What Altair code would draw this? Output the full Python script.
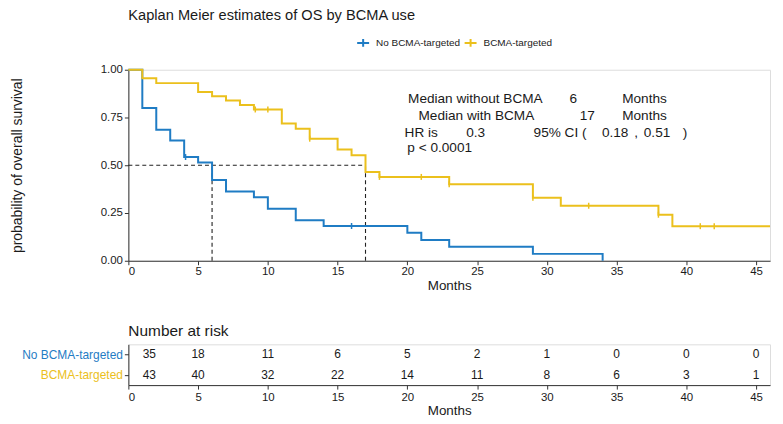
import altair as alt
import pandas as pd

# ---- data ----
groups = ["No BCMA-targeted", "BCMA-targeted"]
colors = ["#1F7CC4", "#EBC01C"]

times_no = [0, 1, 2, 3, 4, 5, 6, 7, 9, 10, 12, 14, 20, 21, 23, 29, 34]
surv_no = [1.0, 0.80, 0.686, 0.629, 0.543, 0.514, 0.423, 0.363, 0.333, 0.272,
           0.212, 0.182, 0.146, 0.109, 0.073, 0.036, 0.0]

times_yes = [0, 1, 2, 5, 6, 7, 8, 9, 11, 12, 13, 15, 16, 17, 18, 23, 29, 31, 38, 39, 46]
surv_yes = [1.0, 0.955, 0.930, 0.884, 0.861, 0.839, 0.816, 0.792, 0.719, 0.691,
            0.639, 0.583, 0.552, 0.465, 0.439, 0.401, 0.330, 0.288, 0.241, 0.181, 0.181]

cens_no_t = [4.1, 16]
cens_no_s = [0.543, 0.182]
cens_yes_t = [9.1, 10, 13, 18, 21, 23, 29, 33, 38, 41, 42]
cens_yes_s = [0.792, 0.792, 0.639, 0.439, 0.439, 0.401, 0.330, 0.288, 0.241, 0.181, 0.181]

median_months = [6, 17]
median_surv = 0.5

risk_times = [0, 5, 10, 15, 20, 25, 30, 35, 40, 45]
risk_no = [35, 18, 11, 6, 5, 2, 1, 0, 0, 0]
risk_yes = [43, 40, 32, 22, 14, 11, 8, 6, 3, 1]

# annotation text (left aligned / centred tokens)
ann_left_text = ["Median without BCMA", "Months", "Median with BCMA", "Months",
                 "HR is", "95% CI (", "p < 0.0001"]
ann_left_x = [20.05, 35.4, 20.8, 35.4, 19.8, 29.05, 20.0]
ann_left_y = [0.847, 0.847, 0.757, 0.757, 0.667, 0.667, 0.592]
ann_mid_text = ["6", "17", "0.3", "0.18", ",", "0.51", ")"]
ann_mid_x = [31.9, 32.9, 24.9, 34.9, 36.4, 37.9, 39.9]
ann_mid_y = [0.847, 0.757, 0.667, 0.667, 0.667, 0.667, 0.667]

FONT = "Liberation Sans"
TXT = "#1a1a1a"

curve = pd.DataFrame({
    "t": times_no + times_yes,
    "s": surv_no + surv_yes,
    "g": [groups[0]] * len(times_no) + [groups[1]] * len(times_yes),
})
cens = pd.DataFrame({
    "t": cens_no_t + cens_yes_t,
    "s": cens_no_s + cens_yes_s,
    "g": [groups[0]] * len(cens_no_t) + [groups[1]] * len(cens_yes_t),
})
hmed = pd.DataFrame({"x0": [0], "x1": [max(median_months)], "s": [median_surv]})
vmed = pd.DataFrame({"t": median_months, "y0": [0] * len(median_months),
                     "s": [median_surv] * len(median_months)})
ann_l = pd.DataFrame({"x": ann_left_x, "y": ann_left_y, "text": ann_left_text})
ann_m = pd.DataFrame({"x": ann_mid_x, "y": ann_mid_y, "text": ann_mid_text})
risk = pd.DataFrame({
    "t": risk_times * 2,
    "n": risk_no + risk_yes,
    "g": [groups[0]] * len(risk_times) + [groups[1]] * len(risk_times),
})

W = 645
xscale = alt.Scale(domain=[0, 46], nice=False, zero=False)
yscale = alt.Scale(domain=[0, 1], nice=False)
cscale = alt.Scale(domain=groups, range=colors)

axis_common = dict(grid=False, domainColor="#333", tickColor="#333",
                   labelFont=FONT, titleFont=FONT, titleColor=TXT, titleFontWeight="normal",
                   tickSize=4)

xaxis = alt.Axis(values=list(range(0, 50, 5)), labelFontSize=11.5, titleFontSize=13.5,
                 title="Months", titlePadding=1, labelPadding=1, labelColor=TXT,
                 **axis_common)
yaxis = alt.Axis(values=[0, 0.25, 0.5, 0.75, 1.0], format=".2f", labelFontSize=11.5,
                 titleFontSize=14, title="probability of overall survival",
                 titlePadding=76, labelPadding=2, labelColor=TXT, **axis_common)

plus_path = "M-1,0L1,0M0,-0.65L0,0.65"

lines = alt.Chart(curve).mark_line(interpolate="step-after", strokeWidth=2).encode(
    x=alt.X("t:Q", scale=xscale, axis=xaxis),
    y=alt.Y("s:Q", scale=yscale, axis=yaxis),
    color=alt.Color("g:N", scale=cscale, sort=groups, legend=alt.Legend(
        orient="none", legendX=229, legendY=-34, direction="horizontal", title=None,
        symbolType=plus_path, symbolSize=144, symbolStrokeWidth=2,
        labelFontSize=10, labelFont=FONT, labelColor=TXT, labelOffset=6,
        columnPadding=0, gridAlign="none")),
)

cmarks = alt.Chart(cens).mark_point(shape="M0,-1L0,1", size=36, filled=False,
                                     strokeWidth=1.5, opacity=1).encode(
    x=alt.X("t:Q"),
    y=alt.Y("s:Q"),
    color=alt.Color("g:N", scale=cscale, legend=None),
)

dash = [4, 3]
hrule = alt.Chart(hmed).mark_rule(color="#222", strokeDash=dash, strokeWidth=1.1).encode(
    x=alt.X("x0:Q"), x2="x1:Q", y=alt.Y("s:Q"),
)
vrule = alt.Chart(vmed).mark_rule(color="#222", strokeDash=dash, strokeWidth=1.1).encode(
    x=alt.X("t:Q"), y=alt.Y("y0:Q"), y2="s:Q",
)

tl = alt.Chart(ann_l).mark_text(align="left", baseline="middle", font=FONT,
                                fontSize=13.7, color=TXT).encode(
    x="x:Q", y="y:Q", text="text:N")
tm = alt.Chart(ann_m).mark_text(align="center", baseline="middle", font=FONT,
                                fontSize=13.7, color=TXT).encode(
    x="x:Q", y="y:Q", text="text:N")

top = alt.layer(hrule, vrule, lines, cmarks, tl, tm).properties(
    width=W, height=192,
    title=alt.TitleParams("Kaplan Meier estimates of OS by BCMA use", anchor="start",
                          frame="group", fontSize=14.7, fontWeight="normal", font=FONT,
                          color=TXT, offset=41),
)

bxaxis = alt.Axis(values=list(range(0, 50, 5)), labelFontSize=11.5, titleFontSize=13.5,
                  title="Months", titlePadding=1, labelPadding=2, labelColor=TXT,
                  **axis_common)
byaxis = alt.Axis(title=None, labelFontSize=12, labelPadding=2,
                  labelColor=alt.condition(f"datum.value == '{groups[0]}'",
                                           alt.value(colors[0]), alt.value(colors[1])),
                  **axis_common)

table = alt.Chart(risk).transform_calculate(
    xp="datum.t == 0 ? 1.5 : datum.t"
).mark_text(font=FONT, fontSize=12, color=TXT, baseline="middle").encode(
    x=alt.X("xp:Q", scale=xscale, axis=bxaxis),
    y=alt.Y("g:N", sort=groups, axis=byaxis,
            scale=alt.Scale(paddingInner=0, paddingOuter=0)),
    text="n:Q",
).properties(
    width=W, height=41,
    title=alt.TitleParams("Number at risk", anchor="start", frame="group",
                          fontSize=15.5, fontWeight="normal", font=FONT, color=TXT,
                          offset=5),
)

chart = alt.vconcat(top, table, spacing=31).properties(
    padding={"left": 2, "top": -2, "right": 0, "bottom": 0}
).configure_view(stroke=None).configure(font=FONT)

chart.save("out.html", embed_options={"renderer": "svg", "actions": False})
